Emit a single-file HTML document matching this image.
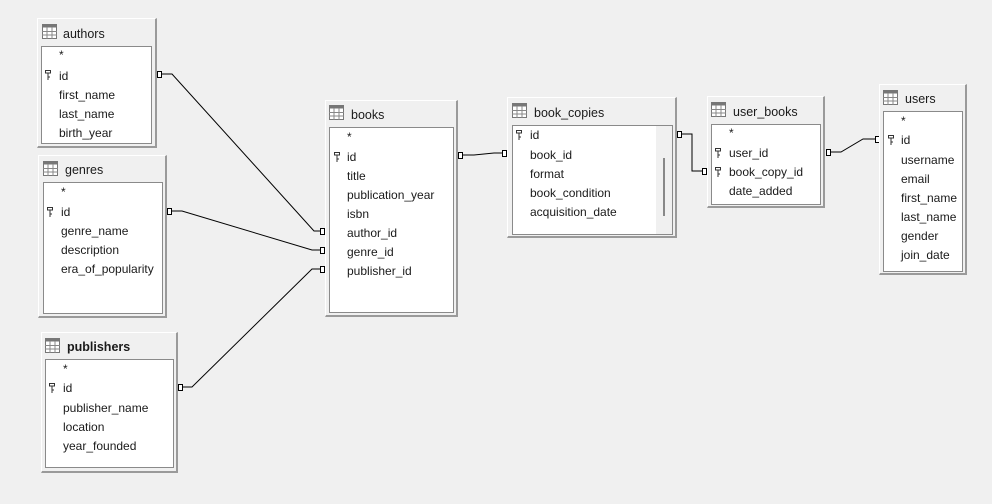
<!DOCTYPE html>
<html><head><meta charset="utf-8"><style>
body{margin:0;width:992px;height:504px;background:#f0f0f0;position:relative;overflow:hidden;font-family:"Liberation Sans",sans-serif;font-size:12px;color:#1a1a1a}
.t{position:absolute;background:#f0f0f0;border-top:1px solid #fff;border-left:1px solid #fff;border-right:2px solid #9a9a9a;border-bottom:2px solid #9a9a9a;box-sizing:border-box}
.in{position:absolute;background:#fff;border:1px solid #8a8a8a;box-sizing:border-box}
.ti{position:absolute;font-size:12.5px;line-height:16px}
.ic{position:absolute;width:15px;height:15px}
.r{position:absolute;line-height:16px;white-space:nowrap}
.k{position:absolute;width:7px;height:11px}
svg.c{position:absolute;left:0;top:0}
</style></head><body>
<svg width="0" height="0" style="position:absolute"><defs>
<symbol id="tb" viewBox="0 0 15 15"><rect x="0.5" y="0.5" width="14" height="14" fill="#fff" stroke="#777"/><rect x="0.5" y="0.5" width="14" height="3" fill="#777"/><line x1="5" y1="3" x2="5" y2="15" stroke="#888"/><line x1="10" y1="3" x2="10" y2="15" stroke="#888"/><line x1="0" y1="7.5" x2="15" y2="7.5" stroke="#888"/><line x1="0" y1="11" x2="15" y2="11" stroke="#888"/></symbol>
<symbol id="key" viewBox="0 0 7 11"><rect x="0.5" y="0.5" width="5" height="2.5" fill="none" stroke="#333"/><line x1="3" y1="3" x2="3" y2="10" stroke="#333"/><line x1="3" y1="7" x2="5" y2="7" stroke="#333"/></symbol>
</defs></svg>

<svg class="c" width="992" height="504">
<g stroke="#000" stroke-width="1" fill="none">
<polyline points="162,74 172,74 314,231 320,231"/>
<polyline points="172,211 182,211 312,250 320,250"/>
<polyline points="183,387 192,387 312,269 320,269"/>
<polyline points="463,155 474,155 494,153 506,153"/>
<polyline points="682,134 692,134 692,171 704,171"/>
<polyline points="831,152 841,152 863,139 876,139"/>
</g>
<g stroke="#000" fill="#fff">
<rect x="157.5" y="71.5" width="4" height="6"/>
<rect x="167.5" y="208.5" width="4" height="6"/>
<rect x="178.5" y="384.5" width="4" height="6"/>
<rect x="320.5" y="228.5" width="4" height="6"/>
<rect x="320.5" y="247.5" width="4" height="6"/>
<rect x="320.5" y="266.5" width="4" height="6"/>
<rect x="458.5" y="152.5" width="4" height="6"/>
<rect x="502.5" y="150.5" width="4" height="6"/>
<rect x="677.5" y="131.5" width="4" height="6"/>
<rect x="702.5" y="168.5" width="4" height="6"/>
<rect x="826.5" y="149.5" width="4" height="6"/>
<rect x="875.5" y="136.5" width="4" height="6"/>
</g>
</svg>

<!-- authors -->
<div class="t" style="left:37px;top:18px;width:120px;height:130px"></div>
<svg class="ic" style="left:42px;top:24px"><use href="#tb"/></svg>
<div class="ti" style="left:63px;top:26px">authors</div>
<div class="in" style="left:41px;top:46px;width:111px;height:98px"></div>
<div class="r" style="left:59px;top:47px">*</div>
<svg class="k" style="left:45px;top:70px"><use href="#key"/></svg>
<div class="r" style="left:59px;top:68px">id</div>
<div class="r" style="left:59px;top:87px">first_name</div>
<div class="r" style="left:59px;top:106px">last_name</div>
<div class="r" style="left:59px;top:125px">birth_year</div>

<!-- genres -->
<div class="t" style="left:38px;top:155px;width:129px;height:163px"></div>
<svg class="ic" style="left:43px;top:161px"><use href="#tb"/></svg>
<div class="ti" style="left:65px;top:162px">genres</div>
<div class="in" style="left:43px;top:182px;width:120px;height:132px"></div>
<div class="r" style="left:61px;top:184px">*</div>
<svg class="k" style="left:47px;top:207px"><use href="#key"/></svg>
<div class="r" style="left:61px;top:204px">id</div>
<div class="r" style="left:61px;top:223px">genre_name</div>
<div class="r" style="left:61px;top:242px">description</div>
<div class="r" style="left:61px;top:261px">era_of_popularity</div>

<!-- publishers -->
<div class="t" style="left:41px;top:332px;width:137px;height:141px"></div>
<svg class="ic" style="left:45px;top:338px"><use href="#tb"/></svg>
<div class="ti" style="left:67px;top:339px;font-weight:bold">publishers</div>
<div class="in" style="left:45px;top:359px;width:129px;height:109px"></div>
<div class="r" style="left:63px;top:361px">*</div>
<svg class="k" style="left:49px;top:383px"><use href="#key"/></svg>
<div class="r" style="left:63px;top:380px">id</div>
<div class="r" style="left:63px;top:400px">publisher_name</div>
<div class="r" style="left:63px;top:419px">location</div>
<div class="r" style="left:63px;top:438px">year_founded</div>

<!-- books -->
<div class="t" style="left:325px;top:100px;width:133px;height:217px"></div>
<svg class="ic" style="left:329px;top:105px"><use href="#tb"/></svg>
<div class="ti" style="left:351px;top:107px">books</div>
<div class="in" style="left:329px;top:127px;width:125px;height:186px"></div>
<div class="r" style="left:347px;top:129px">*</div>
<svg class="k" style="left:334px;top:152px"><use href="#key"/></svg>
<div class="r" style="left:347px;top:149px">id</div>
<div class="r" style="left:347px;top:168px">title</div>
<div class="r" style="left:347px;top:187px">publication_year</div>
<div class="r" style="left:347px;top:206px">isbn</div>
<div class="r" style="left:347px;top:225px">author_id</div>
<div class="r" style="left:347px;top:244px">genre_id</div>
<div class="r" style="left:347px;top:263px">publisher_id</div>

<!-- book_copies -->
<div class="t" style="left:507px;top:97px;width:170px;height:141px"></div>
<svg class="ic" style="left:512px;top:103px"><use href="#tb"/></svg>
<div class="ti" style="left:534px;top:105px">book_copies</div>
<div class="in" style="left:512px;top:125px;width:161px;height:110px"></div>
<div style="position:absolute;left:656px;top:126px;width:16px;height:108px;background:#f0f0f0"></div>
<div style="position:absolute;left:663px;top:158px;width:2px;height:58px;background:#888"></div>
<svg class="k" style="left:516px;top:130px"><use href="#key"/></svg>
<div class="r" style="left:530px;top:127px">id</div>
<div class="r" style="left:530px;top:147px">book_id</div>
<div class="r" style="left:530px;top:166px">format</div>
<div class="r" style="left:530px;top:185px">book_condition</div>
<div class="r" style="left:530px;top:204px">acquisition_date</div>

<!-- user_books -->
<div class="t" style="left:707px;top:96px;width:118px;height:112px"></div>
<svg class="ic" style="left:711px;top:102px"><use href="#tb"/></svg>
<div class="ti" style="left:733px;top:104px">user_books</div>
<div class="in" style="left:711px;top:124px;width:110px;height:81px"></div>
<div class="r" style="left:729px;top:125px">*</div>
<svg class="k" style="left:715px;top:148px"><use href="#key"/></svg>
<div class="r" style="left:729px;top:145px">user_id</div>
<svg class="k" style="left:715px;top:167px"><use href="#key"/></svg>
<div class="r" style="left:729px;top:164px">book_copy_id</div>
<div class="r" style="left:729px;top:183px">date_added</div>

<!-- users -->
<div class="t" style="left:879px;top:84px;width:88px;height:191px"></div>
<svg class="ic" style="left:883px;top:90px"><use href="#tb"/></svg>
<div class="ti" style="left:905px;top:91px">users</div>
<div class="in" style="left:883px;top:111px;width:80px;height:161px"></div>
<div class="r" style="left:901px;top:113px">*</div>
<svg class="k" style="left:888px;top:135px"><use href="#key"/></svg>
<div class="r" style="left:901px;top:132px">id</div>
<div class="r" style="left:901px;top:152px">username</div>
<div class="r" style="left:901px;top:171px">email</div>
<div class="r" style="left:901px;top:190px">first_name</div>
<div class="r" style="left:901px;top:209px">last_name</div>
<div class="r" style="left:901px;top:228px">gender</div>
<div class="r" style="left:901px;top:247px">join_date</div>
</body></html>
